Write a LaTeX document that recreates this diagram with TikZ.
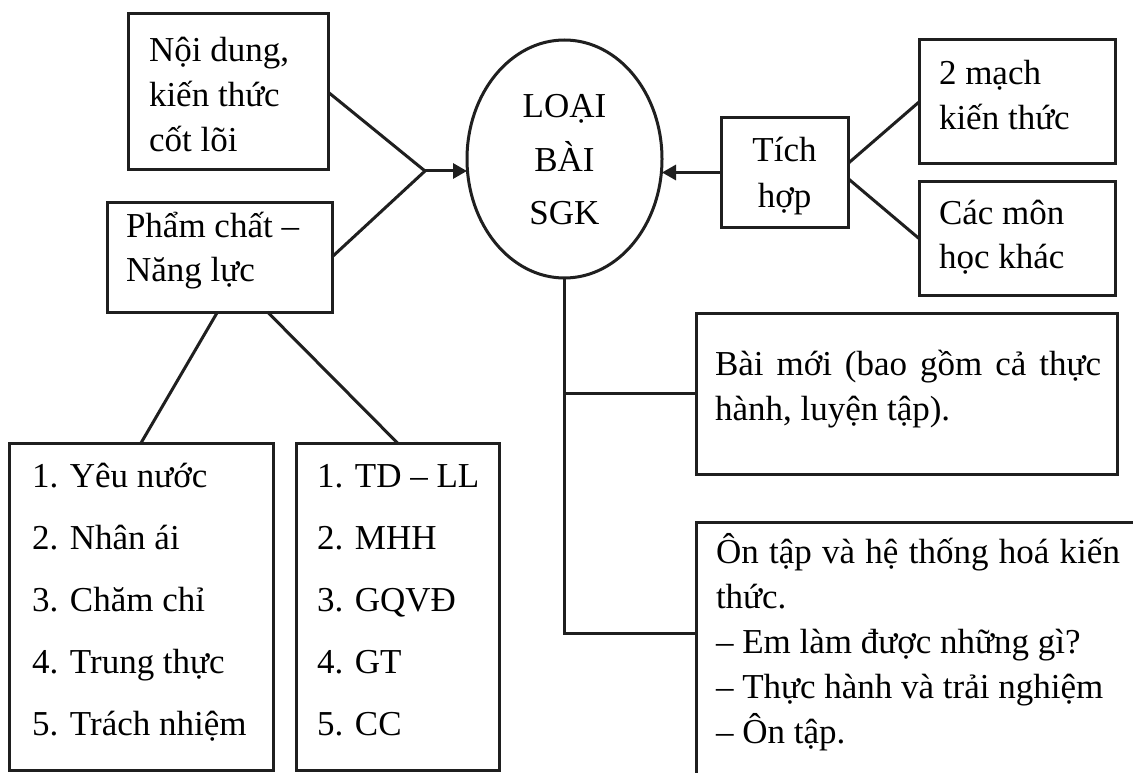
\documentclass[tikz,border=0pt]{standalone}
\usepackage{fontspec}
\setmainfont{Liberation Serif}
\usetikzlibrary{arrows.meta,shapes.geometric}
\newcommand\boxlines[2]{\parbox[t]{#1}{\begin{tabular}[t]{@{}l@{}}#2\end{tabular}}}
\newcommand\boxclines[2]{\parbox[t]{#1}{\centering\begin{tabular}[t]{@{}c@{}}#2\end{tabular}}}
\begin{document}
\begin{tikzpicture}[x=1pt,y=-1pt,
  ln/.style={line width=3pt, draw=black!88},
  box/.style={ln, rectangle, anchor=north west, outer sep=0pt, inner sep=0pt, font=\fontsize{35pt}{45pt}\selectfont},
  arr/.style={ln, -{Triangle[length=14pt,width=15pt]}}]
\clip (0,0) rectangle (1133,773);
\fill[white] (0,0) rectangle (1133,773);

% left upper boxes
\node[box, minimum width=200pt, minimum height=156pt, inner xsep=21pt, text height=48pt, text depth=108pt] (nd) at (128,14) {\boxlines{158pt}{Nội dung,\\kiến thức\\cốt lõi}};
\node[box, minimum width=225pt, minimum height=110pt, inner xsep=19pt, text height=35pt, text depth=75pt, font=\fontsize{35pt}{44pt}\selectfont] (pc) at (107,202) {\boxlines{187pt}{Phẩm chất –\\Năng lực}};

% central ellipse
\node[ln, ellipse, outer sep=0pt, minimum width=195pt, minimum height=238pt, inner sep=0pt, text height=30pt, text depth=112pt, font=\fontsize{35pt}{53.5pt}\selectfont] (ell) at (564.5,159) {\boxclines{100pt}{LOẠI\\BÀI\\SGK}};

% right upper boxes
\node[box, minimum width=127pt, minimum height=109pt, text height=44pt, text depth=65pt, font=\fontsize{35pt}{46pt}\selectfont] (th) at (721,118) {\boxclines{127pt}{Tích\\hợp}};
\node[box, minimum width=196pt, minimum height=124pt, inner xsep=20pt, text height=45pt, text depth=79pt] (mk) at (919,40) {\boxlines{156pt}{2 mạch\\kiến thức}};
\node[box, minimum width=196pt, minimum height=113pt, inner xsep=20pt, text height=42pt, text depth=71pt, font=\fontsize{35pt}{44pt}\selectfont] (cm) at (919,182) {\boxlines{156pt}{Các môn\\học khác}};

% lesson type boxes
\node[box, minimum width=421pt, minimum height=161pt, inner xsep=19pt, text height=62pt, text depth=99pt] (bm) at (696,313) {\boxlines{383pt}{\makebox[386pt][s]{Bài mới (bao gồm cả thực}\\hành, luyện tập).}};
\node[anchor=north west, outer sep=0pt, inner sep=0pt, inner xsep=20pt, text height=41pt, text depth=259pt, font=\fontsize{35pt}{45pt}\selectfont] (on) at (696,522) {\boxlines{420pt}{\makebox[404pt][s]{Ôn tập và hệ thống hoá kiến}\\thức.\\– Em làm được những gì?\\– Thực hành và trải nghiệm\\– Ôn tập.}};
\draw[ln] ([xshift=480pt]on.north west) -- (on.north west) -- ([yshift=-300pt]on.north west);

% lists
\node[box, minimum width=264pt, minimum height=327pt, inner xsep=23pt, text height=44pt, text depth=283pt, font=\fontsize{35pt}{62pt}\selectfont] (lb1) at (9,443) {\boxlines{218pt}{1. Yêu nước\\2. Nhân ái\\3. Chăm chỉ\\4. Trung thực\\5. Trách nhiệm}};
\node[box, minimum width=203pt, minimum height=327pt, inner xsep=21pt, text height=44pt, text depth=283pt, font=\fontsize{35pt}{62pt}\selectfont] (lb2) at (296,443) {\boxlines{161pt}{1. TD – LL\\2. MHH\\3. GQVĐ\\4. GT\\5. CC}};

% connectors
\coordinate (j) at (425,171);
\draw[ln] (nd.east) -- (j) -- (pc.east);
\draw[arr] (j) -- (j -| ell.west);
\draw[arr] (th.west) -- (th.west -| ell.east);
\draw[ln] ([yshift=9pt]th.east) -- (mk.west);
\draw[ln] ([yshift=-6pt]th.east) -- (cm.west);
\draw[ln] ([xshift=-2pt]pc.south) -- (lb1.north);
\draw[ln] ([xshift=48pt]pc.south) -- (lb2.north);
\coordinate (tb) at (ell.south |- 0,633);
\draw[ln] (ell.south) -- (tb) -- (tb -| on.west);
\draw[ln] (bm.west -| ell.south) -- (bm.west);
\end{tikzpicture}
\end{document}
